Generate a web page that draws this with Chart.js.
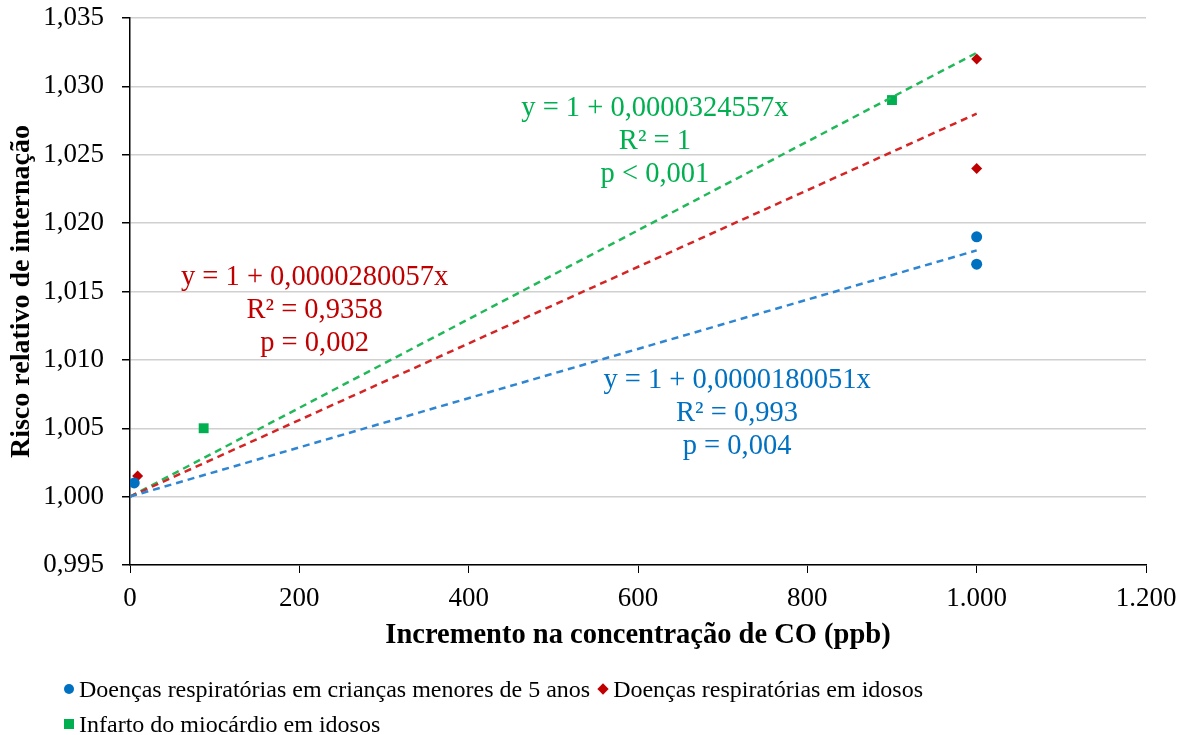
<!DOCTYPE html>
<html>
<head>
<meta charset="utf-8">
<script src="https://cdn.jsdelivr.net/npm/chart.js@4.4.1/dist/chart.umd.min.js"></script>
<style>
  body { margin: 0; background: #fff; }
  #wrap { position: relative; width: 1187px; height: 735px; }
  #chart { position: absolute; left: 0; top: 0; }
  #legend {
    position: absolute; left: 64px; top: 675px; width: 900px;
    display: flex; flex-wrap: wrap; column-gap: 8px; row-gap: 7px;
    font: 24px "Liberation Serif", "Times New Roman", serif; color: #000;
  }
  .item { display: flex; align-items: center; height: 28px; }
  .mark { display: inline-block; width: 10px; height: 10px; margin-right: 5px; }
</style>
</head>
<body>
<div id="wrap">
  <canvas id="chart" width="1187" height="735"></canvas>
  <div id="legend"></div>
</div>
<script>
// series
const seriesNames = [
  "Doenças respiratórias em crianças menores de 5 anos",
  "Doenças respiratórias em idosos",
  "Infarto do miocárdio em idosos"
];
const markerColors = ["#0070C0", "#C00000", "#00B050"];
const lineColors = ["#2E86D3", "#D42424", "#21B85A"];
const markerStyles = ["circle", "rectRot", "rect"];

const childX = [5, 1000, 1000];
const childY = [1.001, 1.019, 1.017];
const elderX = [9, 1000, 1000];
const elderY = [1.0015, 1.032, 1.024];
const infarctX = [87, 900];
const infarctY = [1.005, 1.029];

// fitted trend lines y = 1 + slope * x
const trendSlopes = [0.0000180051, 0.0000280057, 0.0000324557];
const trendRange = [0, 1000];

const equationLines = [
  ["y = 1 + 0,0000180051x", "R² = 0,993", "p = 0,004"],
  ["y = 1 + 0,0000280057x", "R² = 0,9358", "p = 0,002"],
  ["y = 1 + 0,0000324557x", "R² = 1", "p < 0,001"]
];
// where each equation block is anchored (data units)
const equationAnchors = [
  { x: 717, y: 1.0085 },
  { x: 218, y: 1.0160 },
  { x: 620, y: 1.0284 }
];

const xMin = 0, xMax = 1200, xStep = 200;
const yMin = 0.995, yMax = 1.035, yStep = 0.005;

const serif = "'Liberation Serif', 'Times New Roman', serif";

const toPoints = (xs, ys) => xs.map((x, i) => ({ x: x, y: ys[i] }));
const pointSets = [toPoints(childX, childY), toPoints(elderX, elderY), toPoints(infarctX, infarctY)];

const datasets = [];
// trend lines first so the markers sit on top
trendSlopes.forEach((slope, i) => {
  datasets.push({
    label: "trend" + i,
    data: trendRange.map((x) => ({ x: x, y: 1 + slope * x })),
    showLine: true,
    borderColor: lineColors[i],
    borderWidth: 2.5,
    borderDash: [7, 5],
    pointRadius: 0,
    fill: false
  });
});
pointSets.forEach((pts, i) => {
  datasets.push({
    label: seriesNames[i],
    data: pts,
    pointStyle: markerStyles[i],
    pointRadius: i === 2 ? 7 : 5.5,
    backgroundColor: markerColors[i],
    borderColor: markerColors[i],
    borderWidth: 0
  });
});

// draws the equation text blocks
const equationPlugin = {
  id: "equations",
  afterDatasetsDraw(chart) {
    const { ctx, scales } = chart;
    ctx.save();
    ctx.font = "28.5px " + serif;
    ctx.textAlign = "center";
    ctx.textBaseline = "middle";
    equationLines.forEach((lines, i) => {
      const px = scales.x.getPixelForValue(equationAnchors[i].x);
      const py = scales.y.getPixelForValue(equationAnchors[i].y);
      ctx.fillStyle = markerColors[i];
      lines.forEach((t, j) => ctx.fillText(t, px, py + j * 33));
    });
    ctx.restore();
  }
};

const fmtY = (v) => v.toFixed(3).replace(".", ",");
const fmtX = (v) => String(Math.round(v)).replace(/\B(?=(\d{3})+(?!\d))/g, ".");

new Chart(document.getElementById("chart"), {
  type: "scatter",
  data: { datasets: datasets },
  options: {
    responsive: false,
    animation: false,
    layout: { padding: { left: 0, top: 18, right: 41, bottom: 85 } },
    plugins: { legend: { display: false }, tooltip: { enabled: false } },
    scales: {
      x: {
        min: xMin, max: xMax,
        afterFit: (s) => { s.height = 85; },
        ticks: { stepSize: xStep, padding: 10, color: "#000", font: { family: serif, size: 27 }, callback: fmtX },
        grid: { drawOnChartArea: false, drawTicks: true, tickLength: 8, tickColor: "#000" },
        border: { color: "#000", width: 1.5 },
        title: {
          display: true, text: "Incremento na concentração de CO (ppb)", color: "#000",
          font: { family: serif, size: 28.5, weight: "bold", lineHeight: 1.0 }, padding: { top: 0, bottom: 0 }
        }
      },
      y: {
        min: yMin, max: yMax,
        afterFit: (s) => { s.width = 130; s.paddingTop = 0; s.paddingBottom = 0; },
        ticks: { stepSize: yStep, padding: 18, color: "#000", font: { family: serif, size: 27 }, callback: fmtY },
        grid: { color: "#D0D0D0", lineWidth: 1.5, tickLength: 8, tickColor: "#000" },
        border: { color: "#000", width: 1.5 },
        title: {
          display: true, text: "Risco relativo de internação", color: "#000",
          font: { family: serif, size: 28, weight: "bold", lineHeight: 1.2 }, padding: { top: 5, bottom: 0 }
        }
      }
    }
  },
  plugins: [equationPlugin]
});

// legend below the chart
const legend = document.getElementById("legend");
seriesNames.forEach((name, i) => {
  const item = document.createElement("div");
  item.className = "item";
  const mark = document.createElement("span");
  mark.className = "mark";
  mark.style.background = markerColors[i];
  if (markerStyles[i] === "circle") mark.style.borderRadius = "50%";
  if (markerStyles[i] === "rectRot") { mark.style.transform = "rotate(45deg) scale(0.8)"; }
  item.appendChild(mark);
  item.appendChild(document.createTextNode(name));
  legend.appendChild(item);
});
</script>
</body>
</html>
